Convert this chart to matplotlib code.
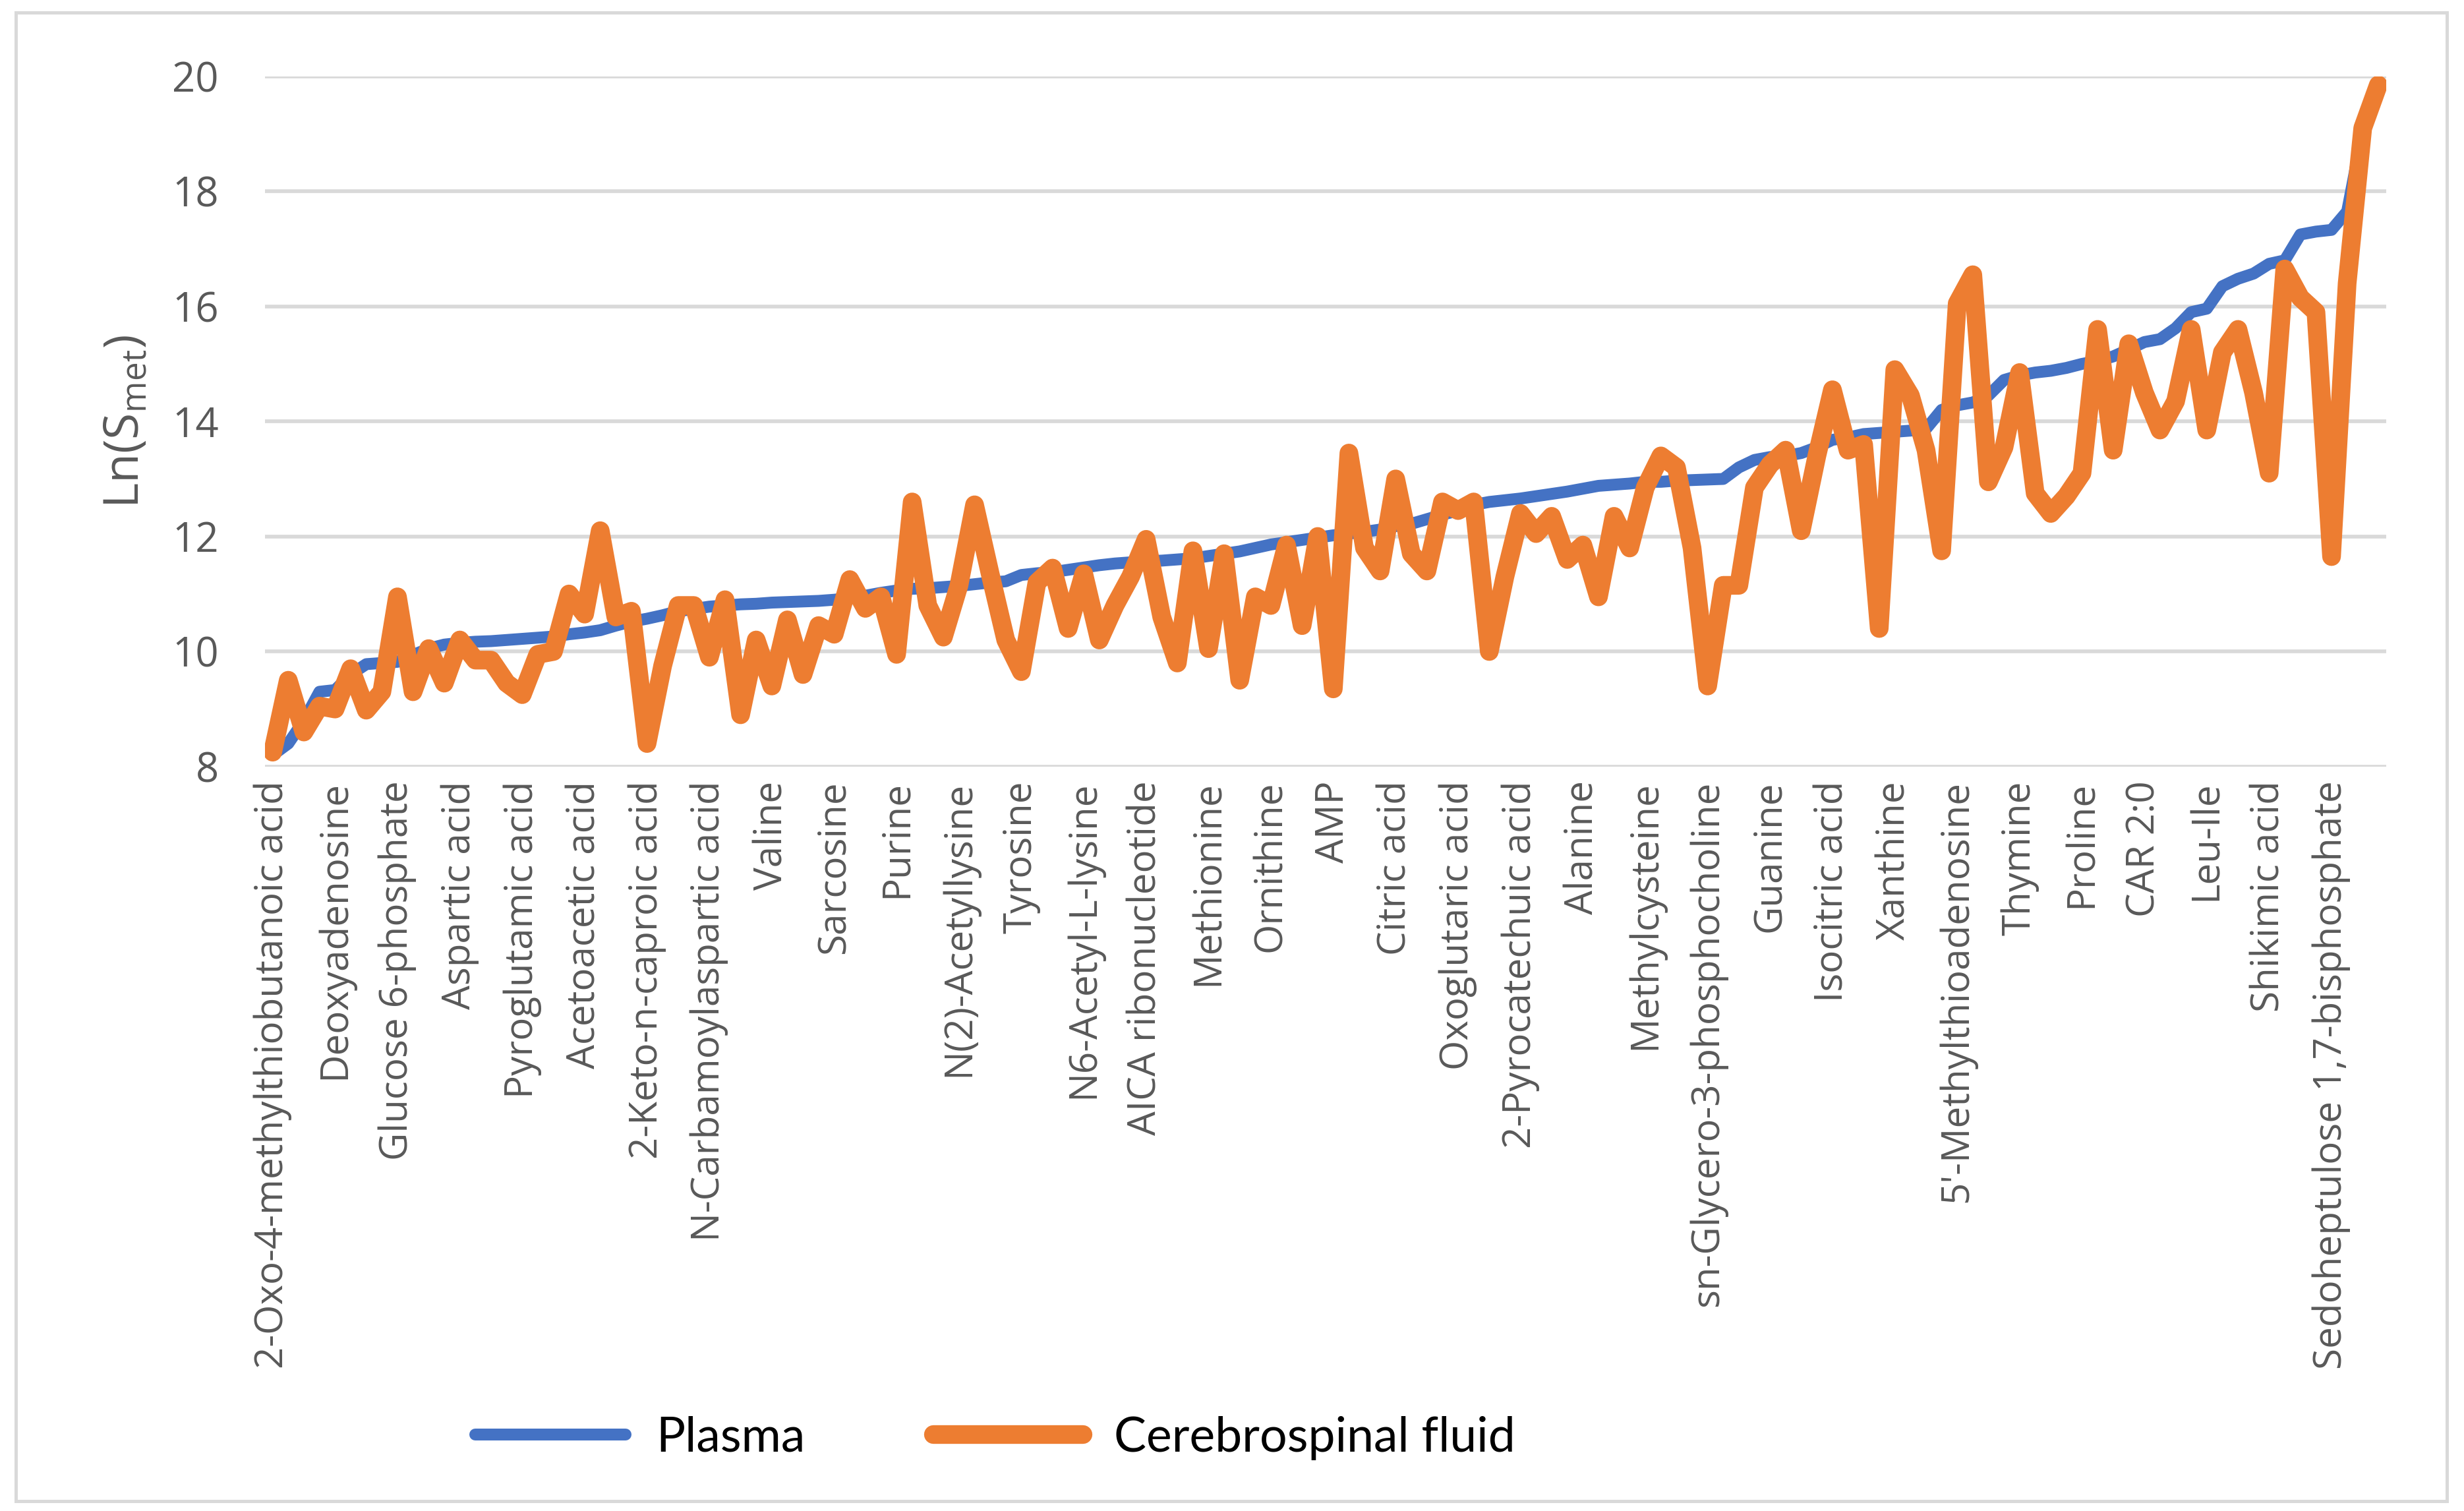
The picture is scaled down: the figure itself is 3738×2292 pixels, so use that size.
import matplotlib.pyplot as plt
from matplotlib.patches import Rectangle
import numpy as np

# every 4th metabolite is labelled on the category axis
tick_labels = [
    "2-Oxo-4-methylthiobutanoic acid", "Deoxyadenosine", "Glucose 6-phosphate",
    "Aspartic acid", "Pyroglutamic acid", "Acetoacetic acid", "2-Keto-n-caproic acid",
    "N-Carbamoylaspartic acid", "Valine", "Sarcosine", "Purine", "N(2)-Acetyllysine",
    "Tyrosine", "N6-Acetyl-L-lysine", "AICA ribonucleotide", "Methionine", "Ornithine",
    "AMP", "Citric acid", "Oxoglutaric acid", "2-Pyrocatechuic acid", "Alanine",
    "Methylcysteine", "sn-Glycero-3-phosphocholine", "Guanine", "Isocitric acid",
    "Xanthine", "5'-Methylthioadenosine", "Thymine", "Proline", "CAR 2:0", "Leu-Ile",
    "Shikimic acid", "Sedoheptulose 1,7-bisphosphate",
]

plasma = [
    8.20, 8.40, 8.80, 9.30, 9.33, 9.60, 9.78, 9.80, 9.82, 9.94,
    10.05, 10.12, 10.15, 10.17, 10.18, 10.20, 10.22, 10.24, 10.26, 10.30,
    10.33, 10.37, 10.45, 10.52, 10.57, 10.63, 10.70, 10.74, 10.78, 10.80,
    10.82, 10.83, 10.85, 10.86, 10.87, 10.88, 10.90, 10.93, 10.97, 11.02,
    11.06, 11.09, 11.10, 11.12, 11.14, 11.17, 11.20, 11.22, 11.33, 11.36,
    11.38, 11.42, 11.46, 11.50, 11.53, 11.55, 11.57, 11.58, 11.60, 11.62,
    11.66, 11.70, 11.74, 11.80, 11.86, 11.90, 11.94, 11.98, 12.02, 12.05,
    12.08, 12.12, 12.18, 12.22, 12.30, 12.38, 12.45, 12.55, 12.60, 12.63,
    12.66, 12.70, 12.74, 12.78, 12.83, 12.88, 12.90, 12.92, 12.95, 12.95,
    12.97, 12.98, 12.99, 13.00, 13.20, 13.33, 13.38, 13.40, 13.45, 13.55,
    13.68, 13.72, 13.78, 13.80, 13.82, 13.84, 13.87, 14.20, 14.28, 14.33,
    14.45, 14.72, 14.80, 14.85, 14.88, 14.93, 15.00, 15.05, 15.13, 15.25,
    15.38, 15.43, 15.62, 15.90, 15.96, 16.35, 16.48, 16.57, 16.74, 16.80,
    17.25, 17.30, 17.33, 17.65, 19.05, 19.90,
]

csf = [
    8.25, 9.50, 8.60, 9.05, 9.00, 9.70, 8.98, 9.30, 10.95, 9.30,
    10.05, 9.45, 10.20, 9.85, 9.85, 9.45, 9.25, 9.95, 10.00, 11.00,
    10.65, 12.10, 10.60, 10.70, 8.40, 9.75, 10.80, 10.80, 9.90, 10.90,
    8.90, 10.20, 9.40, 10.55, 9.60, 10.45, 10.30, 11.25, 10.75, 10.95,
    9.95, 12.60, 10.80, 10.25, 11.15, 12.55, 11.35, 10.20, 9.65, 11.20,
    11.45, 10.40, 11.35, 10.20, 10.80, 11.30, 11.95, 10.60, 9.80, 11.75,
    10.05, 11.70, 9.50, 10.95, 10.80, 11.85, 10.45, 12.00, 9.35, 13.45,
    11.80, 11.40, 13.00, 11.70, 11.40, 12.60, 12.45, 12.60, 10.00, 11.30,
    12.40, 12.05, 12.35, 11.60, 11.85, 10.95, 12.35, 11.80, 12.85, 13.40,
    13.20, 11.80, 9.40, 11.15, 11.15, 12.85, 13.25, 13.50, 12.10, 13.40,
    14.55, 13.50, 13.60, 10.40, 14.90, 14.45, 13.50, 11.75, 16.05, 16.55,
    12.95, 13.55, 14.85, 12.75, 12.40, 12.70, 13.10, 15.60, 13.50, 15.35,
    14.50, 13.85, 14.35, 15.60, 13.85, 15.20, 15.60, 14.50, 13.10, 16.65,
    16.15, 15.90, 11.65, 16.40, 19.10, 19.85,
]

BLUE, ORANGE = "#4472C4", "#ED7D31"
GRID, TEXT = "#D9D9D9", "#595959"

fig = plt.figure(figsize=(15.575, 9.55), dpi=240)
ax = fig.add_axes([0.1075, 0.4927, 0.8609, 0.4568])

x = np.arange(len(plasma))
ax.plot(x, plasma, color=BLUE, lw=5.4, solid_joinstyle="round", solid_capstyle="round", label="Plasma")
ax.plot(x, csf, color=ORANGE, lw=8.5, solid_joinstyle="round", solid_capstyle="round", label="Cerebrospinal fluid")

ax.set_xlim(-0.5, len(plasma) - 0.5)
ax.set_ylim(8, 20)
ax.set_yticks(np.arange(8, 21, 2))
ax.set_xticks(np.arange(0, len(plasma), 4))
ax.set_xticklabels(tick_labels, rotation=90, fontsize=17.5, color=TEXT, family="Open Sans")
for lab in ax.get_yticklabels():
    lab.set_fontsize(18.5); lab.set_color(TEXT); lab.set_family("Open Sans")
ax.tick_params(axis="y", length=0, pad=21)
ax.tick_params(axis="x", length=0, pad=6.5)
ax.grid(axis="y", color=GRID, lw=1.7); ax.set_axisbelow(True)
for s in ax.spines.values(): s.set_visible(False)

fig.text(0.0511, 0.7212, r"Ln(S$_{\mathregular{met}}$)", rotation=90, ha="center", va="center",
         fontsize=22, color=TEXT, family="Open Sans")

fig.legend(loc="center", bbox_to_anchor=(0.404, 0.0484), ncol=2, frameon=False,
           prop={"family": "Lato", "size": 22}, handlelength=3.1, handletextpad=0.64,
           columnspacing=2.65)

fig.patches.append(Rectangle((24 / 3738, 1 - 2277 / 2292), (3712 - 24) / 3738, (2277 - 19) / 2292,
                             transform=fig.transFigure, fill=False, edgecolor=GRID, lw=1.5))

fig.savefig("out.png", dpi=240, facecolor="white")
